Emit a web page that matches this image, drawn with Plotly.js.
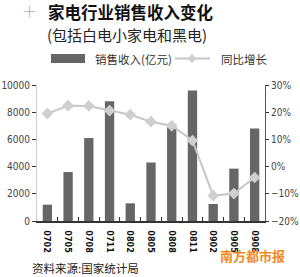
<!DOCTYPE html>
<html>
<head>
<meta charset="utf-8">
<script src="https://cdn.plot.ly/plotly-3.0.1.min.js"></script>
<style>
html,body{margin:0;padding:0;background:#fff;}
#chart{width:300px;height:277px;}
</style>
</head>
<body>
<div id="chart"></div>
<script>
const categories = ['0702','0705','0708','0711','0802','0805','0808','0811','0902','0905','0908'];
const revenue = [1200, 3600, 6100, 8800, 1300, 4300, 6900, 9600, 1250, 3850, 6800];
const growth = [19.5, 22.4, 22.3, 20.6, 19.1, 16.5, 15.0, 9.6, -10.7, -9.9, -4.0];
const revenueName = '销售收入(亿元)';
const growthName = '同比增长';

const W = 300, H = 277;
const L = 37, R = 35, T = 85, B = 56;
const pw = W - L - R, ph = H - T - B;
const px = x => (x - L) / pw;
const py = y => (H - B - y) / ph;
const cjk = '"Noto Sans CJK SC", "Noto Sans", sans-serif';
const num = '"Liberation Sans Narrow", "DejaVu Sans Condensed", "Roboto Condensed", "Liberation Sans", Arial, sans-serif';

const traces = [
  {
    type: 'bar', x: categories, y: revenue, name: revenueName,
    marker: {color: '#666666'}, width: 0.45, yaxis: 'y', hoverinfo: 'skip'
  },
  {
    type: 'scatter', mode: 'lines+markers', x: categories, y: growth, name: growthName,
    yaxis: 'y2', line: {color: '#c6c6c6', width: 2},
    marker: {symbol: 'diamond', size: 9, color: '#cfcfcf'}, hoverinfo: 'skip'
  }
];

const layout = {
  width: W, height: H,
  margin: {l: L, r: R, t: T, b: B, pad: 0},
  paper_bgcolor: '#fff', plot_bgcolor: '#fff',
  showlegend: false,
  font: {family: num, size: 10, color: '#333'},
  xaxis: {
    type: 'category', range: [-0.5, 10.5],
    tickangle: 90, tickfont: {family: num, size: 9, color: '#111', weight: 'bold'},
    ticklabelstandoff: 6,
    ticks: 'inside', tickson: 'boundaries', ticklen: 4, tickcolor: '#333',
    showline: true, linecolor: '#333', linewidth: 1.5,
    showgrid: false, zeroline: false, fixedrange: true
  },
  yaxis: {
    range: [0, 10000], dtick: 2000, tickformat: 'd', exponentformat: 'none',
    ticks: 'outside', ticklen: 4, tickcolor: '#333', tickwidth: 1,
    showline: true, linecolor: '#cccccc', linewidth: 1,
    showgrid: false, zeroline: false,
    tickfont: {family: num, size: 10, color: '#444'}
  },
  yaxis2: {
    overlaying: 'y', side: 'right', range: [-20, 30], dtick: 10, ticksuffix: '%',
    ticks: 'outside', ticklen: 3, tickcolor: '#333',
    showline: true, linecolor: '#555', linewidth: 1,
    showgrid: false, zeroline: false,
    tickfont: {family: num, size: 10, color: '#444'}
  },
  shapes: [
    {type: 'rect', xref: 'paper', yref: 'paper', x0: px(51), x1: px(85), y0: py(63), y1: py(54),
     fillcolor: '#666666', line: {width: 0}},
    {type: 'line', xref: 'paper', yref: 'paper', x0: px(175), x1: px(210), y0: py(58.5), y1: py(58.5),
     line: {color: '#c6c6c6', width: 2}},
    {type: 'path', xref: 'paper', yref: 'paper', xsizemode: 'pixel', ysizemode: 'pixel',
     xanchor: px(192), yanchor: py(58.5), path: 'M0,4.5 L4.5,0 L0,-4.5 L-4.5,0 Z',
     fillcolor: '#cfcfcf', line: {width: 0}}
  ],
  annotations: [
    {xref: 'paper', yref: 'paper', x: px(29), y: py(11), text: '＋', showarrow: false,
     font: {family: cjk, size: 15, color: '#bbbbbb'}, xanchor: 'center', yanchor: 'middle'},
    {xref: 'paper', yref: 'paper', x: px(46), y: py(12), text: '<b>家电行业销售收入变化</b>', showarrow: false,
     font: {family: cjk, size: 16.5, color: '#111'}, xanchor: 'left', yanchor: 'middle'},
    {xref: 'paper', yref: 'paper', x: px(45), y: py(34), text: '(包括白电小家电和黑电)', showarrow: false,
     font: {family: cjk, size: 15, color: '#222'}, xanchor: 'left', yanchor: 'middle'},
    {xref: 'paper', yref: 'paper', x: px(93), y: py(58.5), text: revenueName, showarrow: false,
     font: {family: cjk, size: 11.5, color: '#333'}, xanchor: 'left', yanchor: 'middle'},
    {xref: 'paper', yref: 'paper', x: px(219), y: py(58.5), text: growthName, showarrow: false,
     font: {family: cjk, size: 11.5, color: '#333'}, xanchor: 'left', yanchor: 'middle'},
    {xref: 'paper', yref: 'paper', x: px(30), y: py(268), text: '资料来源:国家统计局', showarrow: false,
     font: {family: cjk, size: 11.5, color: '#222'}, xanchor: 'left', yanchor: 'middle'},
    {xref: 'paper', yref: 'paper', x: px(252), y: py(255), text: '<b>南方都市报</b>', showarrow: false,
     font: {family: cjk, size: 13, color: '#f08a24'}, xanchor: 'center', yanchor: 'middle'}
  ]
};

Plotly.newPlot('chart', traces, layout, {staticPlot: true, displayModeBar: false});
</script>
</body>
</html>
